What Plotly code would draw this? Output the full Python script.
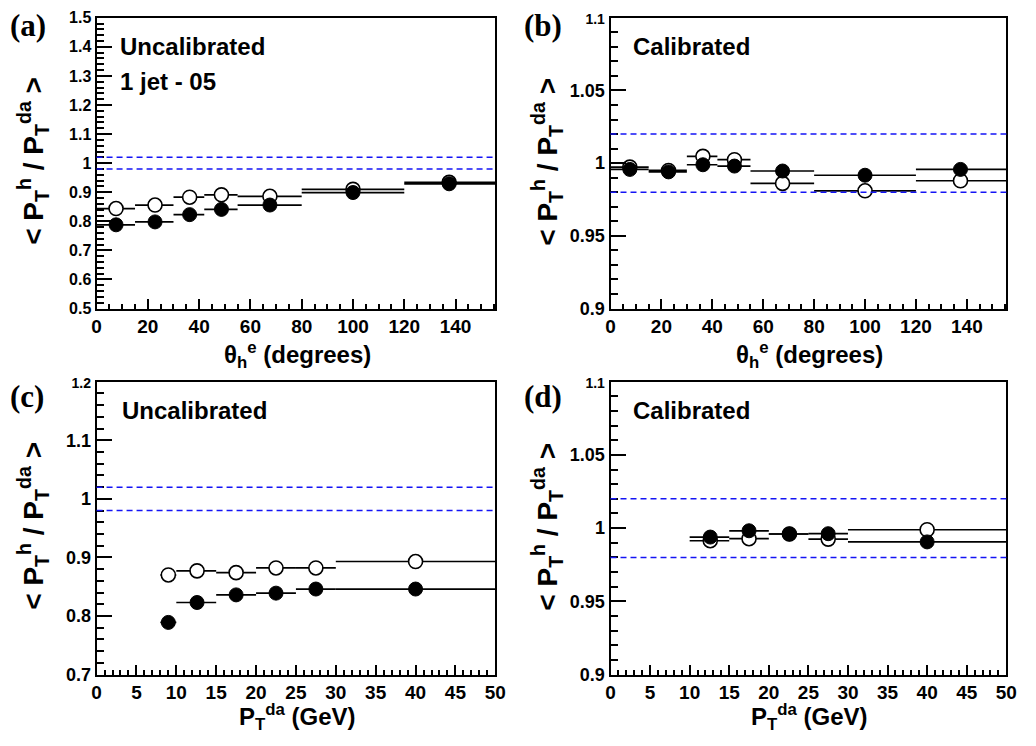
import plotly.graph_objects as go

# ---------------- data ----------------
# panels (a),(b): bins in theta_h^e (degrees)
theta_lo = [0, 15, 30, 42, 55, 80, 120]
theta_hi = [15, 30, 42, 55, 80, 120, 155.5]
theta_x = [7.6, 22.8, 36.3, 48.7, 67.6, 100.0, 137.5]
a_open = [0.844, 0.856, 0.883, 0.891, 0.886, 0.910, 0.934]
a_fill = [0.788, 0.798, 0.823, 0.841, 0.856, 0.899, 0.929]
b_open = [0.9973, 0.9950, 1.0047, 1.0024, 0.9861, 0.9810, 0.9879]
b_fill = [0.9957, 0.9940, 0.9989, 0.9980, 0.9946, 0.9917, 0.9957]

# panel (c): bins in P_T^da (GeV)
c_lo = [8, 10, 15, 20, 25, 30]
c_hi = [10, 15, 20, 25, 30, 50]
c_x = [9.0, 12.6, 17.5, 22.5, 27.5, 40.0]
c_open = [0.870, 0.877, 0.874, 0.882, 0.882, 0.893]
c_fill = [0.789, 0.823, 0.836, 0.839, 0.846, 0.846]

# panel (d)
d_lo = [10, 15, 20, 25, 30]
d_hi = [15, 20, 25, 30, 50]
d_x = [12.6, 17.5, 22.6, 27.5, 40.0]
d_open = [0.9914, 0.9928, 0.9960, 0.9925, 0.9989]
d_fill = [0.9939, 0.9982, 0.9960, 0.9962, 0.9906]

band = [0.98, 1.02]

a_yticks = [0.5, 0.6, 0.7, 0.8, 0.9, 1.0, 1.1, 1.2, 1.3, 1.4, 1.5]
a_ylabels = ["0.5", "0.6", "0.7", "0.8", "0.9", "1", "1.1", "1.2", "1.3", "1.4", "1.5"]
bd_yticks = [0.9, 0.95, 1.0, 1.05, 1.1]
bd_ylabels = ["0.9", "0.95", "1", "1.05", "1.1"]
c_yticks = [0.7, 0.8, 0.9, 1.0, 1.1, 1.2]
c_ylabels = ["0.7", "0.8", "0.9", "1", "1.1", "1.2"]

# ---------------- figure ----------------
W, H = 1036, 746
FONT = "Liberation Sans, Arial, Helvetica, sans-serif"

def px_x(p):
    return p / W

def px_y(p):
    return 1 - p / H

left_dom = [px_x(93), px_x(498)]
right_dom = [px_x(615), px_x(1017)]
top_dom = [px_y(308), px_y(10)]
bot_dom = [px_y(683), px_y(383)]

fig = go.Figure()

def add_series(xv, yv, lo, hi, xa, ya, filled):
    fig.add_trace(go.Scatter(
        x=xv, y=yv, xaxis=xa, yaxis=ya, mode="markers",
        marker=dict(size=14, symbol="circle",
                    color="black" if filled else "white",
                    line=dict(color="black", width=1 if filled else 1.6)),
        error_x=dict(type="data", symmetric=False,
                     array=[h - x for h, x in zip(hi, xv)],
                     arrayminus=[x - l for l, x in zip(lo, xv)],
                     width=0, thickness=1.7, color="black"),
        showlegend=False, hoverinfo="skip"))

add_series(theta_x, a_open, theta_lo, theta_hi, "x", "y", False)
add_series(theta_x, a_fill, theta_lo, theta_hi, "x", "y", True)
add_series(theta_x, b_open, theta_lo, theta_hi, "x2", "y2", False)
add_series(theta_x, b_fill, theta_lo, theta_hi, "x2", "y2", True)
add_series(c_x, c_open, c_lo, c_hi, "x3", "y3", False)
add_series(c_x, c_fill, c_lo, c_hi, "x3", "y3", True)
add_series(d_x, d_open, d_lo, d_hi, "x4", "y4", False)
add_series(d_x, d_fill, d_lo, d_hi, "x4", "y4", True)

# dashed reference band
shapes = []
for xr, yr in [("x", "y"), ("x2", "y2"), ("x3", "y3"), ("x4", "y4")]:
    for v in band:
        shapes.append(dict(type="line", xref=xr + " domain", yref=yr,
                           x0=0, x1=1, y0=v, y1=v,
                           line=dict(color="rgb(20,20,245)", width=1.5, dash="6px,4px")))

def xaxis(dom, anchor, rng, dtick, minor):
    return dict(domain=dom, anchor=anchor, range=rng, dtick=dtick, tick0=0,
                showline=True, linecolor="black", linewidth=2, mirror=True,
                ticks="inside", ticklen=10, tickwidth=2, tickcolor="black",
                minor=dict(dtick=minor, ticks="inside", ticklen=5, tickwidth=1.5, tickcolor="black"),
                showgrid=False, zeroline=False,
                tickfont=dict(family=FONT, size=19, color="black", weight="bold"))

def yaxis(dom, anchor, rng, tvals, tlabels, minor, size, small_top):
    labels = list(tlabels)
    if small_top:
        labels[-1] = '<span style="font-size:14px">' + labels[-1] + '</span>'
    return dict(domain=dom, anchor=anchor, range=rng, tickmode="array",
                tickvals=tvals, ticktext=labels,
                showline=True, linecolor="black", linewidth=2, mirror=True,
                ticks="inside", ticklen=15, tickwidth=2, tickcolor="black",
                minor=dict(dtick=minor, tick0=rng[0], ticks="inside", ticklen=7, tickwidth=1.5, tickcolor="black"),
                showgrid=False, zeroline=False,
                tickfont=dict(family=FONT, size=size, color="black", weight="bold"))

fig.update_layout(
    width=W, height=H, margin=dict(l=0, r=0, t=0, b=0),
    paper_bgcolor="white", plot_bgcolor="white",
    xaxis=xaxis(left_dom, "y", [0, 155.5], 20, 5),
    yaxis=yaxis(top_dom, "x", [0.5, 1.5], a_yticks, a_ylabels, 0.02, 16, False),
    xaxis2=xaxis(right_dom, "y2", [0, 155.5], 20, 5),
    yaxis2=yaxis(top_dom, "x2", [0.9, 1.1], bd_yticks, bd_ylabels, 0.01, 18, True),
    xaxis3=xaxis(left_dom, "y3", [0, 50], 5, 1),
    yaxis3=yaxis(bot_dom, "x3", [0.7, 1.2], c_yticks, c_ylabels, 0.02, 18, True),
    xaxis4=xaxis(right_dom, "y4", [0, 50], 5, 1),
    yaxis4=yaxis(bot_dom, "x4", [0.9, 1.1], bd_yticks, bd_ylabels, 0.01, 18, True),
    shapes=shapes,
)

ann = []
def text(x, y, s, size, family=FONT, xanchor="left", angle=0):
    ann.append(dict(xref="paper", yref="paper", x=px_x(x), y=px_y(y), text=s,
                    showarrow=False, xanchor=xanchor, yanchor="middle", textangle=angle,
                    font=dict(family=family, size=size, color="black")))

TIMES = "Liberation Serif, Times New Roman, serif"
text(3, 18, "<b>(a)</b>", 31, TIMES)
text(525, 18, "<b>(b)</b>", 31, TIMES)
text(3, 398, "<b>(c)</b>", 31, TIMES)
text(525, 398, "<b>(d)</b>", 31, TIMES)

text(115, 39, "<b>Uncalibrated</b>", 24)
text(115, 75, "<b>1 jet - 05</b>", 24)
text(636, 39, "<b>Calibrated</b>", 24)
text(117, 412, "<b>Uncalibrated</b>", 24)
text(636, 412, "<b>Calibrated</b>", 24)

ytitle = "<b>&lt; P<sub>T</sub><sup>h</sup> / P<sub>T</sub><sup>da</sup> &gt;</b>"
text(29, 157, ytitle, 28, xanchor="center", angle=-90)
text(551, 157, ytitle, 28, xanchor="center", angle=-90)
text(29, 531, ytitle, 28, xanchor="center", angle=-90)
text(551, 531, ytitle, 28, xanchor="center", angle=-90)

xt_theta = "<b>θ<sub>h</sub><sup>e</sup> (degrees)</b>"
xt_pt = "<b>P<sub>T</sub><sup>da</sup> (GeV)</b>"
text(297, 356, xt_theta, 24, xanchor="center")
text(817, 356, xt_theta, 24, xanchor="center")
text(297, 727, xt_pt, 24, xanchor="center")
text(817, 727, xt_pt, 24, xanchor="center")

fig.update_layout(annotations=ann)

fig.write_html("out.html", post_script="document.body.style.margin='0';",
               config={"displayModeBar": False})
